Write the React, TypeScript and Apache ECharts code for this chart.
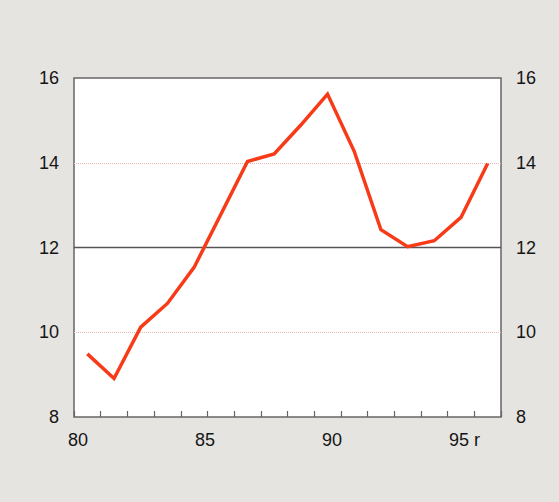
import React, { useEffect, useRef } from "react";
import * as echarts from "echarts";

const years = ["1980","1981","1982","1983","1984","1985","1986","1987","1988","1989","1990","1991","1992","1993","1994","1995"];
const values = [9.49, 8.91, 10.12, 10.68, 11.53, 12.78, 14.03, 14.21, 14.89, 15.62, 14.27, 12.42, 12.02, 12.16, 12.71, 13.98];
const yearLabels = [80, 85, 90, 95];
const yTicks = [8, 10, 12, 14, 16];
const refLevel = 12;
const faintLevels = [10, 14];

const FONT = "'Liberation Sans', Arial, Helvetica, sans-serif";

export default function App() {
  const ref = useRef<HTMLDivElement>(null);
  useEffect(() => {
    if (!ref.current) return;
    const chart = echarts.init(ref.current, null, { renderer: "svg" });
    const yLabel = {
      fontSize: 18,
      color: "#151515",
      fontFamily: FONT,
      margin: 15,
      customValues: yTicks,
    };
    chart.setOption({
      animation: false,
      backgroundColor: "#e6e4e1",
      grid: [
        {
          left: 74,
          top: 78,
          width: 427,
          height: 339,
          show: true,
          backgroundColor: "#ffffff",
          borderColor: "#666666",
          borderWidth: 1.5,
        },
        { left: 0, top: 78, width: 559, height: 339, show: false },
      ],
      xAxis: [
        {
          type: "category",
          data: years,
          boundaryGap: true,
          axisLine: { show: false },
          axisTick: {
            show: true,
            inside: true,
            length: 6,
            interval: 0,
            lineStyle: { color: "#666", width: 1.2 },
          },
          axisLabel: { show: false },
          splitLine: { show: false },
        },
        {
          type: "value",
          gridIndex: 1,
          position: "bottom",
          min: 77.323,
          max: 99.331,
          axisLine: { show: false },
          axisTick: { show: false },
          splitLine: { show: false },
          axisLabel: {
            customValues: yearLabels,
            fontSize: 18,
            color: "#151515",
            fontFamily: FONT,
            margin: 14,
            align: "left",
            formatter: (v: number) => (v === 95 ? "95 r" : String(v)),
          },
        },
      ],
      yAxis: [
        {
          type: "value",
          min: 8,
          max: 16,
          interval: 2,
          position: "left",
          axisLine: { show: false },
          axisTick: { show: false },
          axisLabel: yLabel,
          splitLine: { show: false },
        },
        {
          type: "value",
          min: 8,
          max: 16,
          interval: 2,
          position: "right",
          axisLine: { show: false },
          axisTick: { show: false },
          axisLabel: yLabel,
          splitLine: { show: false },
        },
        {
          type: "value",
          gridIndex: 1,
          min: 8,
          max: 16,
          show: false,
        },
      ],
      series: [
        {
          type: "line",
          data: values,
          xAxisIndex: 0,
          yAxisIndex: 0,
          symbol: "none",
          lineStyle: { color: "#f73a18", width: 3.5, join: "miter" },
          markLine: {
            silent: true,
            symbol: "none",
            label: { show: false },
            data: [
              { yAxis: refLevel, lineStyle: { color: "#555", type: "solid", width: 1.3 } },
              ...faintLevels.map((v) => ({
                yAxis: v,
                lineStyle: { color: "#e8b4b4", type: "dotted", width: 1 },
              })),
            ],
            z: 1,
          },
          z: 3,
        },
      ],
    });
    return () => chart.dispose();
  }, []);
  return (
    <div
      ref={ref}
      style={{ position: "fixed", left: 0, top: 0, width: 559, height: 502 }}
    />
  );
}
